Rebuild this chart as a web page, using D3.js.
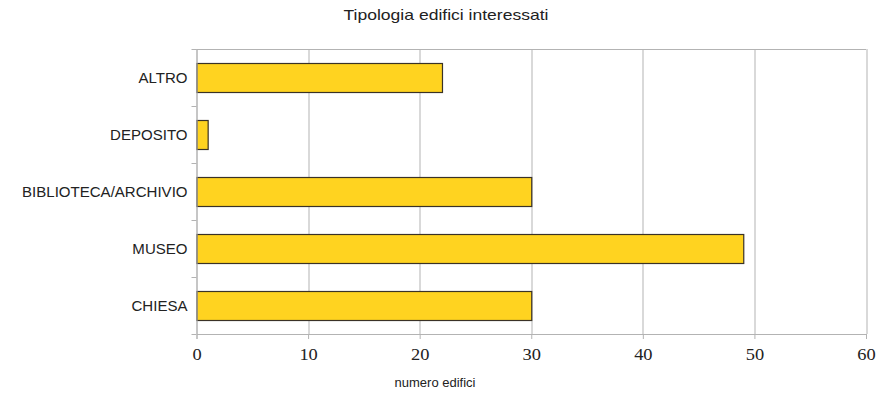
<!DOCTYPE html>
<meta charset="utf-8">
<script src="https://d3js.org/d3.v7.min.js"></script>
<style>
body { margin: 0; background: #fff; }
text { font-family: "Liberation Sans", Arial, sans-serif; fill: #222; }
</style>
<div id="my_dataviz"></div>
<script>

// data
var categories = ["ALTRO", "DEPOSITO", "BIBLIOTECA/ARCHIVIO", "MUSEO", "CHIESA"];
var values = [22, 1, 30, 49, 30];
var xTicks = [0, 10, 20, 30, 40, 50, 60];

var margin = {top: 49, right: 10, bottom: 62, left: 196.5},
    width = 866 - margin.left,
    height = 334 - margin.top;

var svg = d3.select("#my_dataviz")
  .append("svg")
    .attr("width", 876)
    .attr("height", 396);

// squeeze/stretch text a bit, like the source picture
function stretch(sel, k) {
  sel.each(function() {
    var w = this.getComputedTextLength();
    d3.select(this).attr("textLength", w * k).attr("lengthAdjust", "spacingAndGlyphs");
  });
}

// title
svg.append("text")
  .attr("x", 446)
  .attr("y", 20)
  .attr("text-anchor", "middle")
  .style("font-size", "15px")
  .text("Tipologia edifici interessati")
  .attr("textLength", 205)
  .attr("lengthAdjust", "spacingAndGlyphs");

var g = svg.append("g")
  .attr("transform", "translate(" + margin.left + "," + margin.top + ")");

var x = d3.scaleLinear()
  .domain([0, 60])
  .range([0, width]);

var y = d3.scaleBand()
  .domain(categories)
  .range([0, height])
  .paddingInner(0.49)
  .paddingOuter(0.245);

// vertical gridlines
g.selectAll(".grid")
  .data(xTicks)
  .enter()
  .append("line")
    .attr("x1", function(d) { return Math.round(x(d)) + 0.5; })
    .attr("x2", function(d) { return Math.round(x(d)) + 0.5; })
    .attr("y1", 0)
    .attr("y2", height)
    .attr("stroke", "#b3b3b3");

// horizontal top grid line
g.append("line")
  .attr("x1", 0).attr("x2", width)
  .attr("y1", 0.5).attr("y2", 0.5)
  .attr("stroke", "#b3b3b3");

// bars
g.selectAll(".bar")
  .data(categories)
  .enter()
  .append("rect")
    .attr("x", x(0) + 0.5)
    .attr("y", function(d) { return Math.round(y(d)) + 0.5; })
    .attr("width", function(d, i) { return x(values[i]) - x(0); })
    .attr("height", Math.round(y.bandwidth()))
    .attr("fill", "#ffd320")
    .attr("stroke", "#3a3226")
    .attr("stroke-width", 1.2);

// bottom axis
var xAxis = g.append("g")
  .attr("transform", "translate(0," + height + ")")
  .call(d3.axisBottom(x).tickValues(xTicks).tickSize(5).tickPadding(10));
xAxis.select(".domain").attr("stroke", "#b3b3b3");
xAxis.selectAll("line").attr("stroke", "#b3b3b3");
xAxis.selectAll("text")
  .style("font-family", "'Liberation Serif', serif")
  .style("font-size", "16px")
  .attr("fill", "#333")
  .call(stretch, 1.15);

// left axis: ticks at band borders
var borders = d3.range(categories.length + 1).map(function(i) { return i * height / categories.length; });
g.append("line")
  .attr("x1", 0.5).attr("x2", 0.5)
  .attr("y1", 0).attr("y2", height)
  .attr("stroke", "#b3b3b3");
g.selectAll(".ytick")
  .data(borders)
  .enter()
  .append("line")
    .attr("x1", -5).attr("x2", 0)
    .attr("y1", function(d) { return Math.round(d) + 0.5; })
    .attr("y2", function(d) { return Math.round(d) + 0.5; })
    .attr("stroke", "#b3b3b3");

g.selectAll(".ylabel")
  .data(categories)
  .enter()
  .append("text")
    .attr("x", -9)
    .attr("y", function(d) { return y(d) + y.bandwidth() / 2; })
    .attr("dy", "0.36em")
    .attr("text-anchor", "end")
    .style("font-size", "15.5px")
    .text(function(d) { return d; })
    .call(stretch, 0.97);

// x axis label
svg.append("text")
  .attr("x", 435)
  .attr("y", 387)
  .attr("text-anchor", "middle")
  .style("font-size", "13px")
  .text("numero edifici");

</script>
